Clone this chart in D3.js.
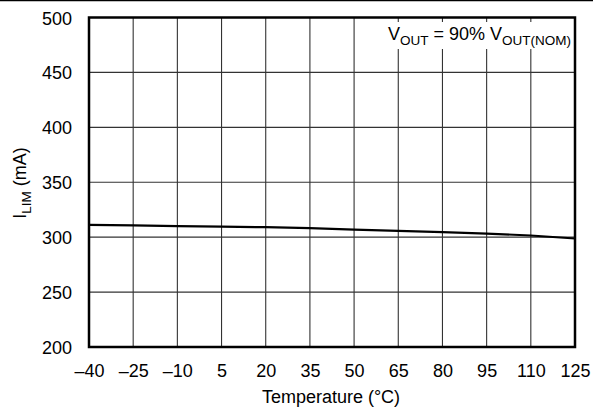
<!DOCTYPE html>
<html>
<head>
<meta charset="utf-8">
<script src="https://cdn.jsdelivr.net/npm/d3@7"></script>
<style>
  html, body { margin: 0; padding: 0; background: #fff; }
  svg { display: block; font-family: "Liberation Sans", Arial, Helvetica, sans-serif; }
</style>
</head>
<body>
<svg id="chart" width="593" height="409"></svg>
<script>
// ---- data ----
const temperatures = [-40, -25, -10, 5, 20, 35, 50, 65, 80, 95, 110, 125];
const currentLimit = [311.2, 310.8, 310.1, 309.6, 309.1, 308.2, 306.8, 305.7, 304.5, 303.3, 301.5, 298.8];
const xTicks = [-40, -25, -10, 5, 20, 35, 50, 65, 80, 95, 110, 125];
const yTicks = [200, 250, 300, 350, 400, 450, 500];
const xTitle = "Temperature (°C)";

// ---- layout ----
const W = 593, H = 409;
const L = 89, R = 575, T = 17.5, B = 347;
const FS = 18, SUB = 13.5;

const svg = d3.select("#chart");
const x = d3.scaleLinear().domain([-40, 125]).range([L, R]);
const y = d3.scaleLinear().domain([200, 500]).range([B, T]);

// top border line of the figure
svg.append("line").attr("x1", 0).attr("x2", W).attr("y1", 0.5).attr("y2", 0.5)
  .attr("stroke", "#000").attr("stroke-width", 1.5);

// grid
const grid = svg.append("g");
grid.selectAll("line.v").data(xTicks).join("line")
  .attr("x1", d => x(d)).attr("x2", d => x(d)).attr("y1", T).attr("y2", B)
  .attr("stroke", "#333").attr("stroke-width", 1.1);
grid.selectAll("line.h").data(yTicks).join("line")
  .attr("x1", L).attr("x2", R).attr("y1", d => y(d)).attr("y2", d => y(d))
  .attr("stroke", "#333").attr("stroke-width", 1.1);

// annotation box (white background)
svg.append("rect").attr("x", 383).attr("y", 22).attr("width", 189).attr("height", 27).attr("fill", "#fff");
const ann = svg.append("text").attr("x", 388).attr("y", 40)
  .attr("font-size", FS).attr("fill", "#000");
ann.append("tspan").text("V");
ann.append("tspan").attr("font-size", SUB).attr("dy", 4.5).text("OUT");
ann.append("tspan").attr("dy", -4.5).text(" = 90% V");
ann.append("tspan").attr("font-size", SUB).attr("dy", 4.5).text("OUT(NOM)");

// curve
svg.append("path")
  .datum(temperatures.map((t, i) => [t, currentLimit[i]]))
  .attr("fill", "none").attr("stroke", "#000").attr("stroke-width", 2.2)
  .attr("d", d3.line().x(d => x(d[0])).y(d => y(d[1])));

// frame
svg.append("rect").attr("x", L).attr("y", T).attr("width", R - L).attr("height", B - T)
  .attr("fill", "none").attr("stroke", "#000").attr("stroke-width", 2.5);

// axes (labels only) via d3 axes
const fmt = d => d < 0 ? "\u2013" + Math.abs(d) : String(d);
const xAxis = svg.append("g").attr("transform", `translate(0,${B})`)
  .call(d3.axisBottom(x).tickValues(xTicks).tickFormat(fmt).tickSize(0));
xAxis.select(".domain").remove();
xAxis.selectAll("text").attr("font-size", FS).attr("fill", "#000")
  .attr("font-family", "'Liberation Sans', Arial, sans-serif")
  .attr("dy", null).attr("y", 30);

const yAxis = svg.append("g").attr("transform", `translate(${L},0)`)
  .call(d3.axisLeft(y).tickValues(yTicks).tickFormat(d3.format("d")).tickSize(0).tickPadding(17));
yAxis.select(".domain").remove();
yAxis.selectAll("text").attr("font-size", FS).attr("fill", "#000")
  .attr("font-family", "'Liberation Sans', Arial, sans-serif")
  .attr("dy", null).attr("y", 6.5);

// axis titles
svg.append("text").attr("x", 331).attr("y", 403).attr("text-anchor", "middle")
  .attr("font-size", FS).attr("fill", "#000").text(xTitle);

const yt = svg.append("text").attr("transform", "translate(26,183) rotate(-90)")
  .attr("text-anchor", "middle").attr("font-size", FS).attr("fill", "#000");
yt.append("tspan").text("I");
yt.append("tspan").attr("font-size", SUB).attr("dy", 4.5).text("LIM");
yt.append("tspan").attr("dy", -4.5).text(" (mA)");
</script>
</body>
</html>
